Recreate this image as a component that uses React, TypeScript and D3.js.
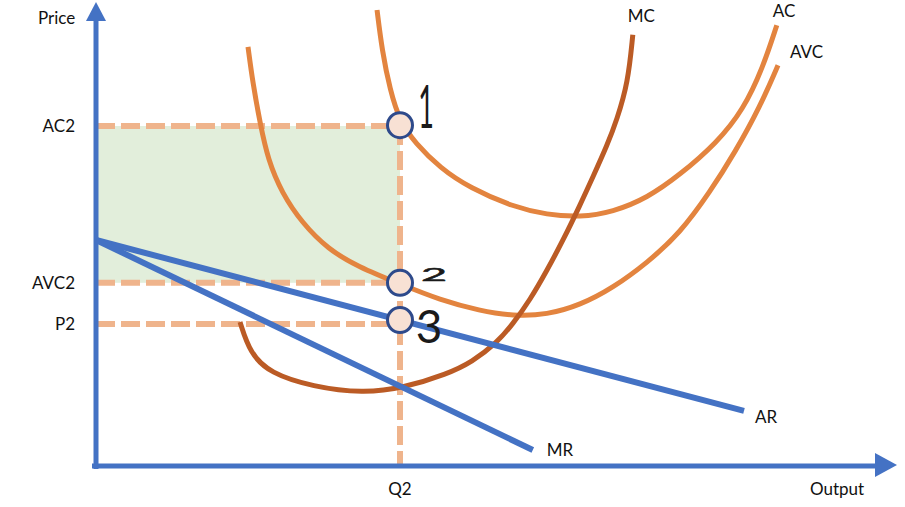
import React from 'react';
import * as d3 from 'd3';

// Chart units: quantity on x, price on y
const acCurve: [number, number][] = [
  [35.13, 57], [35.75, 52], [36.75, 47], [38, 43], [39.9, 40.4], [43, 37.25],
  [46.75, 34.75], [52.1, 32.4], [56.4, 31.4], [60.5, 31.1], [64.6, 31.75],
  [68.9, 33.5], [73, 36.4], [77.6, 40.4], [80.9, 44.5], [83.4, 49.9], [85.1, 55.1],
];
const avcCurve: [number, number][] = [
  [19, 52.4], [19.6, 47.9], [20.5, 42.9], [21.5, 38.25], [23.25, 34.1],
  [25.75, 30.4], [29, 27.1], [32.75, 24.9], [38, 22.75], [43, 20.75], [48, 19.4],
  [52.1, 18.75], [56.4, 18.9], [60.5, 20.1], [64.6, 22.25], [68.9, 25.4],
  [73, 29.1], [76.75, 34.25], [79.9, 39.25], [83, 44.9], [85.25, 50.1],
];
const mcCurve: [number, number][] = [
  [18, 18], [19.25, 14.1], [21.75, 11.6], [27.1, 9.9], [33.4, 9.1], [38.4, 9.75],
  [43.9, 11.5], [47, 13], [50.1, 15.4], [52.1, 17.75], [54.25, 20.75],
  [56.4, 24.5], [58.4, 28.25], [60.5, 32.6], [62.1, 36.1], [63.9, 40.1],
  [65.1, 43.25], [66.5, 47.9], [67.1, 53.9],
];
const arLine: [number, number][] = [[0, 28.25], [81, 6.9]];
const mrLine: [number, number][] = [[0, 28.25], [54.6, 2]];

const q2 = 38;
const levelNames = ['AC2', 'AVC2', 'P2'];
const levelValues = [42.5, 22.9, 17.75];
const pointNames = ['1', '2', '3'];
const pointValues = [42.6, 22.9, 18.25];

const W = 905;
const H = 507;
const blue = '#4472c4';
const orange = '#e3843f';
const mcColor = '#bb5b25';
const dashColor = '#efb48c';
const font = 'Lato, "Open Sans", sans-serif';

export default function App() {
  const x = d3.scaleLinear().domain([0, 100]).range([96, 896]);
  const y = d3.scaleLinear().domain([0, 58]).range([466, 2]);
  const curve = d3.line<[number, number]>()
    .x(d => x(d[0]))
    .y(d => y(d[1]))
    .curve(d3.curveBasis);
  const straight = d3.line<[number, number]>().x(d => x(d[0])).y(d => y(d[1]));

  const x0 = x(0);
  const y0 = y(0);
  const xq = x(q2);
  const end = (c: [number, number][]) => [x(c[c.length - 1][0]), y(c[c.length - 1][1])];
  const [acX, acY] = end(acCurve);
  const [avcX, avcY] = end(avcCurve);
  const [mcX, mcY] = end(mcCurve);
  const [arX, arY] = end(arLine);
  const [mrX, mrY] = end(mrLine);

  return (
    <svg width={W} height={H} style={{ position: 'absolute', left: 0, top: 0 }}>
      <rect width={W} height={H} fill="#fff" />
      {/* loss area */}
      <rect x={x0} y={y(levelValues[0])} width={xq - x0}
        height={y(levelValues[1]) - y(levelValues[0])} fill="#e2eedb" />

      {/* dashed guides */}
      {levelValues.map((v, i) => (
        <line key={i} x1={x0} x2={xq} y1={y(v)} y2={y(v)}
          stroke={dashColor} strokeWidth={6} strokeDasharray="19,6" />
      ))}
      <line x1={xq} x2={xq} y1={y(levelValues[0])} y2={y0}
        stroke={dashColor} strokeWidth={6} strokeDasharray="19,6" />

      {/* cost curves */}
      <path d={curve(avcCurve) || ''} fill="none" stroke={orange} strokeWidth={5} />
      <path d={curve(acCurve) || ''} fill="none" stroke={orange} strokeWidth={5} />
      <path d={curve(mcCurve) || ''} fill="none" stroke={mcColor} strokeWidth={5} />

      {/* revenue lines */}
      <path d={straight(arLine) || ''} fill="none" stroke={blue} strokeWidth={6} />
      <path d={straight(mrLine) || ''} fill="none" stroke={blue} strokeWidth={6} />

      {/* axes */}
      <line x1={x0} x2={x0} y1={y0 + 3} y2={20} stroke={blue} strokeWidth={5} />
      <polygon points={`${x0},2 ${x0 - 10},21 ${x0 + 10},21`} fill={blue} />
      <line x1={x0 - 4} x2={877} y1={y0} y2={y0} stroke={blue} strokeWidth={5} />
      <polygon points={`897,${y0 - 1} 875,${y0 - 13} 875,${y0 + 11}`} fill={blue} />

      {/* points */}
      {pointValues.map((v, i) => (
        <circle key={i} cx={xq} cy={y(v)} r={12.5} fill="#f8e1d4" stroke="#2e4a8b" strokeWidth={3} />
      ))}
      <text transform={`translate(${xq + 26},${y(pointValues[0]) + 3}) scale(0.45,1)`}
        fontSize={60} fontFamily={font} fill="#1a1a1a" textAnchor="middle">{pointNames[0]}</text>
      <text transform={`translate(${xq + 34},${y(pointValues[1]) - 2}) scale(1.5,0.6)`}
        fontSize={30} fontFamily={font} fill="#1a1a1a" stroke="#1a1a1a" strokeWidth={0.8}
        textAnchor="middle">{pointNames[1]}</text>
      <text x={xq + 29} y={y(pointValues[2]) + 23} fontSize={46} fontFamily={font}
        fill="#1a1a1a" textAnchor="middle">{pointNames[2]}</text>

      {/* axis labels */}
      <g fontFamily={font} fontSize={17} fill="#111">
        <text x={38} y={24}>Price</text>
        {levelValues.map((v, i) => (
          <text key={i} x={75} y={y(v) + 6} textAnchor="end">{levelNames[i]}</text>
        ))}
        <text x={xq} y={495} textAnchor="middle">Q2</text>
        <text x={810} y={495}>Output</text>
        <text x={mcX - 5} y={mcY - 13}>MC</text>
        <text x={acX - 4} y={acY - 8}>AC</text>
        <text x={avcX + 12} y={avcY - 7}>AVC</text>
        <text x={arX + 11} y={arY + 12}>AR</text>
        <text x={mrX + 14} y={mrY + 6}>MR</text>
      </g>
    </svg>
  );
}
